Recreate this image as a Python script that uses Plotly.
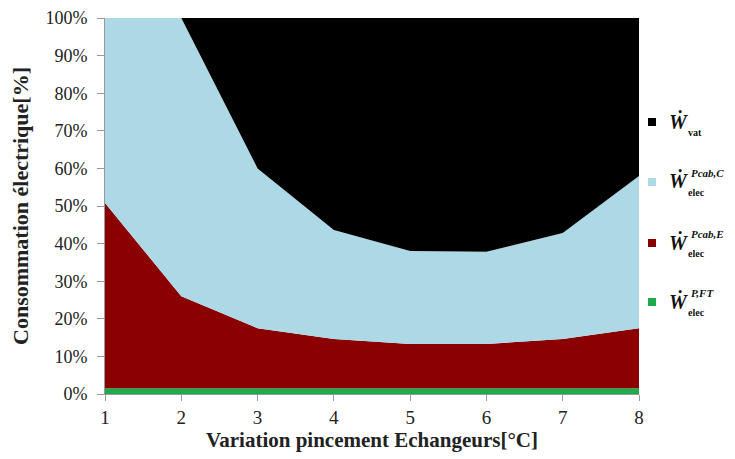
import plotly.graph_objects as go

x = [1, 2, 3, 4, 5, 6, 7, 8]
green = [1.5, 1.5, 1.5, 1.5, 1.5, 1.5, 1.5, 1.5]
red = [49.3, 24.5, 16.0, 13.1, 11.8, 11.8, 13.1, 16.0]
blue = [49.2, 74.0, 42.5, 29.0, 24.7, 24.5, 28.2, 40.5]
black = [0.0, 0.0, 40.0, 56.5, 62.0, 62.2, 57.2, 42.0]

colors = ["#1faa4b", "#8b0000", "#add8e6", "#000000"]
series = [green, red, blue, black]
leg_sup = ["P,FT", "Pcab,E", "Pcab,C", ""]
leg_sub = ["elec", "elec", "elec", "vat"]

# figure geometry (page is offset ~7px by body margin)
L, T, W, H = 97, 10, 534, 376
FW, FH = 735, 459

fig = go.Figure()
for s, c in zip(series, colors):
    fig.add_trace(go.Scatter(x=x, y=s, stackgroup="one", mode="none",
                             fillcolor=c, showlegend=False, hoverinfo="skip"))

def px(fx):
    return (fx - L) / W

def py(fy):
    return (T + H - fy) / H

font_family = "Liberation Serif"
# legend drawn manually: top-to-bottom black, blue, red, green
centers = [294, 235, 174, 114]  # figure-pixel y centres for green, red, blue, black
for c, cy, sup, sub in zip(colors, centers, leg_sup, leg_sub):
    fig.add_shape(type="rect", xref="paper", yref="paper",
                  x0=px(640), x1=px(648), y0=py(cy + 4), y1=py(cy - 4),
                  fillcolor=c, line=dict(width=0))
    fig.add_annotation(xref="paper", yref="paper", x=px(659), y=py(cy - 1),
                       xanchor="left", yanchor="middle", showarrow=False,
                       text="<b><i>Ẇ</i></b>",
                       font=dict(family=font_family, size=20, color="#111111"))
    if sup:
        fig.add_annotation(xref="paper", yref="paper", x=px(681), y=py(cy - 9),
                           xanchor="left", yanchor="middle", showarrow=False,
                           text=f"<b><i>{sup}</i></b>",
                           font=dict(family=font_family, size=11, color="#111111"))
    fig.add_annotation(xref="paper", yref="paper", x=px(678), y=py(cy + 10),
                       xanchor="left", yanchor="middle", showarrow=False,
                       text=f"<b>{sub}</b>",
                       font=dict(family=font_family, size=10, color="#111111"))

fig.update_layout(
    width=FW, height=FH,
    margin=dict(l=L, r=FW - L - W, t=T, b=FH - T - H, autoexpand=False),
    paper_bgcolor="white", plot_bgcolor="white",
    font=dict(family=font_family, color="#222222"),
    showlegend=False,
    xaxis=dict(range=[1, 8], tickvals=x, ticks="outside", ticklen=6,
               tickcolor="#999999", showline=True, linecolor="#999999",
               showgrid=False, zeroline=False,
               tickfont=dict(size=19, family=font_family),
               title=dict(text="<b>Variation pincement Echangeurs[°C]</b>",
                          font=dict(size=21, family=font_family), standoff=4)),
    yaxis=dict(range=[0, 100], tickvals=list(range(0, 101, 10)),
               ticktext=[f"{v}%" for v in range(0, 101, 10)],
               ticks="outside", ticklen=7, tickcolor="#999999",
               ticklabelstandoff=6,
               showline=True, linecolor="#999999", showgrid=False, zeroline=False,
               tickfont=dict(size=18, family=font_family),
               title=dict(text="<b>Consommation électrique[%]</b>",
                          font=dict(size=22, family=font_family), standoff=14)),
)

fig.write_html("out.html")
